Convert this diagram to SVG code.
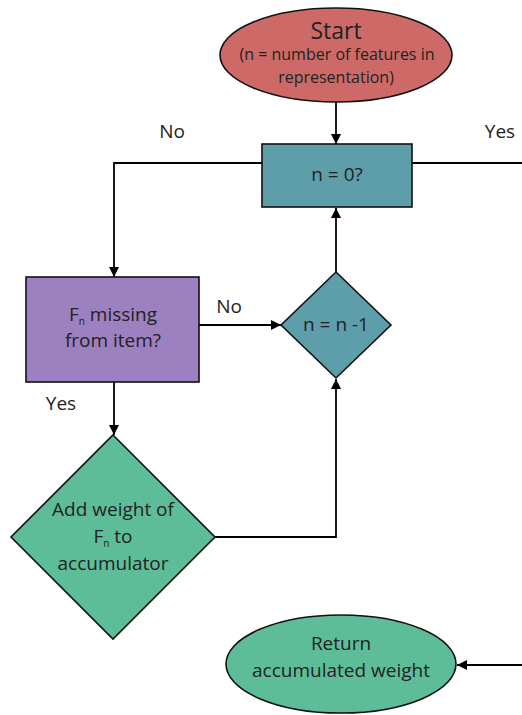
<svg xmlns="http://www.w3.org/2000/svg" width="522" height="715" viewBox="0 0 522 715">
  <defs>
    <marker id="arrow" viewBox="0 0 10 10" refX="10" refY="5" markerWidth="10" markerHeight="10" markerUnits="userSpaceOnUse" orient="auto">
      <path d="M0,0 L10,5 L0,10 Z" fill="#000"/>
    </marker>
    <style>
      .shape { stroke: #111; stroke-width: 1.6; }
      .red { fill: #CD6A68; }
      .teal { fill: #5E9DAA; }
      .purple { fill: #9C80C0; }
      .green { fill: #5DBD98; }
      .conn { fill: none; stroke: #000; stroke-width: 1.8; }
      text { font-family: "Open Sans", "Liberation Sans", sans-serif; fill: #222; text-anchor: middle; }
      .lbl { font-size: 19px; }
      .note { font-size: 16px; }
      .sub { font-size: 10px; }
    </style>
  </defs>
  <rect width="522" height="715" fill="#fff"/>

  <g id="connectors">
    <line class="conn" x1="336" y1="102" x2="336" y2="144" marker-end="url(#arrow)"/>
    <polyline class="conn" points="262,163 114,163 114,277" marker-end="url(#arrow)"/>
    <line class="conn" x1="412" y1="163" x2="522" y2="163"/>
    <line class="conn" x1="199" y1="325" x2="281" y2="325" marker-end="url(#arrow)"/>
    <line class="conn" x1="336" y1="272" x2="336" y2="208" marker-end="url(#arrow)"/>
    <line class="conn" x1="114" y1="382" x2="114" y2="435" marker-end="url(#arrow)"/>
    <polyline class="conn" points="215,537 336,537 336,379" marker-end="url(#arrow)"/>
    <line class="conn" x1="522" y1="665" x2="457" y2="665" marker-end="url(#arrow)"/>
    <text class="lbl" x="172" y="138">No</text>
    <text class="lbl" x="500" y="138">Yes</text>
    <text class="lbl" x="229" y="313">No</text>
    <text class="lbl" x="61" y="410">Yes</text>
  </g>

  <g id="start">
    <ellipse class="shape red" cx="336" cy="55" rx="116" ry="47"/>
    <text x="336" y="39" style="font-size:23px">Start</text>
    <text class="note" x="337" y="60">(n = number of features in</text>
    <text class="note" x="336" y="83">representation)</text>
  </g>

  <g id="check-zero">
    <rect class="shape teal" x="262" y="144" width="150" height="63"/>
    <text class="lbl" x="337" y="181">n = 0?</text>
  </g>

  <g id="missing">
    <rect class="shape purple" x="26" y="277" width="173" height="105"/>
    <text class="lbl" x="113" y="321">F<tspan class="sub" dy="4">n</tspan><tspan dy="-4"> missing</tspan></text>
    <text class="lbl" x="113" y="347">from item?</text>
  </g>

  <g id="decrement">
    <polygon class="shape teal" points="336,272 391,325 336,378 281,325"/>
    <text class="lbl" x="336" y="331">n = n -1</text>
  </g>

  <g id="add-weight">
    <polygon class="shape green" points="113,435 215,537 113,639 11,537"/>
    <text class="lbl" x="113" y="516">Add weight of</text>
    <text class="lbl" x="113" y="543">F<tspan class="sub" dy="4">n</tspan><tspan dy="-4"> to</tspan></text>
    <text class="lbl" x="113" y="570">accumulator</text>
  </g>

  <g id="return">
    <ellipse class="shape green" cx="341" cy="664" rx="115" ry="49"/>
    <text class="lbl" x="341" y="650">Return</text>
    <text class="lbl" x="341" y="677">accumulated weight</text>
  </g>
</svg>
